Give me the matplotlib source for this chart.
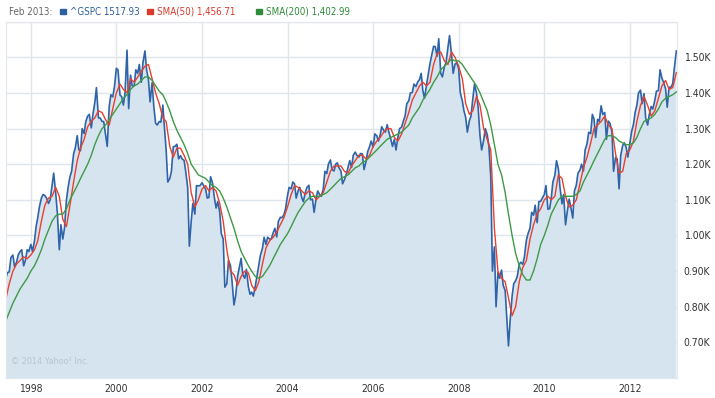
import matplotlib
matplotlib.use('Agg')
import matplotlib.pyplot as plt
import matplotlib.dates as mdates
from matplotlib.patches import Rectangle
from matplotlib.ticker import FuncFormatter, MultipleLocator
import pandas as pd

# ^GSPC, value on the 1st and 15th of each month (Jun 1997 - Feb 2013)
gspc = [
    880, 895, 898, 938, 945, 912, 925, 945, 955, 960, 915, 930, 960, 955,  # 1997
    975, 955, 985, 1025, 1050, 1080, 1105, 1115, 1112, 1105, 1090, 1100,
    1140, 1175, 1120, 1065, 960, 1030, 990, 1020, 1100, 1135, 1165, 1180,  # 1998
    1229, 1245, 1280, 1240, 1238, 1300, 1286, 1320, 1335, 1340, 1302, 1340,
    1373, 1415, 1330, 1330, 1320, 1320, 1282, 1250, 1362, 1395, 1389, 1415,  # 1999
    1469, 1465, 1394, 1390, 1366, 1400, 1520, 1356, 1450, 1420, 1420, 1465,
    1455, 1480, 1430, 1485, 1518, 1465, 1437, 1375, 1429, 1365, 1315, 1310,  # 2000
    1320, 1318, 1366, 1300, 1240, 1150, 1160, 1180, 1249, 1250, 1256, 1215,
    1224, 1215, 1211, 1180, 1134, 970, 1040, 1090, 1060, 1140, 1139, 1140,  # 2001
    1148, 1140, 1130, 1105, 1107, 1165, 1147, 1110, 1077, 1095, 1067, 1005,
    990, 855, 865, 930, 916, 870, 805, 830, 886, 910, 936, 890,  # 2002
    880, 905, 856, 835, 841, 830, 858, 885, 917, 945, 964, 995,
    975, 995, 990, 990, 1008, 1020, 996, 1040, 1051, 1050, 1058, 1075,  # 2003
    1112, 1135, 1131, 1150, 1145, 1105, 1126, 1135, 1107, 1095, 1121, 1135,
    1141, 1100, 1102, 1065, 1104, 1125, 1115, 1110, 1130, 1180, 1174, 1200,  # 2004
    1212, 1185, 1181, 1200, 1204, 1190, 1181, 1145, 1157, 1170, 1192, 1210,
    1191, 1225, 1234, 1225, 1220, 1230, 1229, 1185, 1207, 1235, 1249, 1265,  # 2005
    1248, 1285, 1280, 1265, 1281, 1305, 1295, 1290, 1311, 1290, 1270, 1250,
    1270, 1240, 1277, 1300, 1304, 1320, 1336, 1370, 1378, 1400, 1401, 1425,  # 2006
    1418, 1430, 1438, 1455, 1407, 1385, 1421, 1450, 1482, 1505, 1531, 1530,
    1503, 1552, 1455, 1445, 1474, 1485, 1527, 1561, 1509, 1455, 1481, 1485,  # 2007
    1468, 1400, 1378, 1350, 1331, 1290, 1322, 1335, 1385, 1425, 1400, 1360,
    1280, 1240, 1267, 1300, 1283, 1250, 1165, 900, 968, 800, 896, 880,  # 2008
    903, 860, 845, 770, 690, 760, 830, 865, 873, 885, 919, 925,
    919, 940, 987, 1005, 1021, 1065, 1057, 1085, 1036, 1095, 1096, 1105,  # 2009
    1115, 1140, 1074, 1075, 1104, 1150, 1169, 1210, 1187, 1135, 1089, 1115,
    1030, 1065, 1102, 1080, 1049, 1125, 1141, 1175, 1183, 1200, 1181, 1240,  # 2010
    1258, 1290, 1286, 1340, 1327, 1275, 1326, 1320, 1364, 1340, 1345, 1270,
    1321, 1315, 1292, 1180, 1219, 1215, 1131, 1225, 1253, 1260, 1247, 1220,  # 2011
    1258, 1290, 1312, 1345, 1366, 1400, 1408, 1370, 1398, 1330, 1310, 1340,
    1362, 1355, 1379, 1405, 1407, 1465, 1441, 1430, 1412, 1360, 1416, 1415,  # 2012
    1426, 1470, 1517.93,  # 2013
]

# SMA(50), value on the 1st of each month
sma50 = [
    820, 865, 900, 920, 930, 940, 935,
    945, 960, 985, 1040, 1085, 1105, 1110, 1135, 1110, 1045, 1025, 1085,
    1150, 1210, 1245, 1270, 1305, 1320, 1330, 1350, 1345, 1325, 1310, 1355,
    1400, 1425, 1410, 1400, 1440, 1430, 1445, 1460, 1475, 1480, 1440, 1400,
    1370, 1330, 1320, 1250, 1220, 1245, 1245, 1225, 1200, 1120, 1080, 1100,
    1130, 1140, 1125, 1135, 1125, 1090, 1040, 960, 900, 890, 860, 885,
    900, 895, 860, 845, 870, 920, 965, 985, 995, 1010, 1030, 1050,
    1080, 1115, 1140, 1135, 1125, 1115, 1125, 1120, 1100, 1110, 1120, 1150,
    1180, 1195, 1195, 1195, 1180, 1175, 1195, 1210, 1225, 1225, 1215, 1225,
    1250, 1265, 1275, 1290, 1300, 1300, 1275, 1265, 1285, 1315, 1345, 1380,
    1400, 1420, 1430, 1420, 1430, 1480, 1510, 1515, 1490, 1480, 1515, 1500,
    1475, 1440, 1370, 1340, 1350, 1390, 1365, 1300, 1270, 1240, 1020, 900,
    880, 870, 825, 775, 800, 870, 910, 930, 990, 1030, 1060, 1075,
    1100, 1110, 1100, 1110, 1170, 1160, 1110, 1080, 1085, 1100, 1145, 1190,
    1220, 1260, 1300, 1310, 1320, 1335, 1310, 1300, 1230, 1175, 1180, 1230,
    1240, 1265, 1320, 1365, 1390, 1365, 1335, 1350, 1385, 1420, 1435, 1410,
    1415, 1456.71,
]

# SMA(200), value on the 1st of each month
sma200 = [
    760, 785, 810, 830, 850, 865, 880,
    900, 915, 935, 960, 990, 1015, 1040, 1055, 1060, 1060, 1075, 1100,
    1120, 1140, 1160, 1180, 1200, 1225, 1255, 1280, 1300, 1310, 1325, 1340,
    1355, 1370, 1385, 1395, 1410, 1420, 1425, 1435, 1445, 1445, 1435, 1420,
    1405, 1395, 1375, 1350, 1320, 1295, 1275, 1255, 1230, 1200, 1185, 1170,
    1165, 1160, 1150, 1140, 1135, 1125, 1105, 1080, 1050, 1020, 985, 955,
    935, 915, 900, 885, 880, 885, 900, 915, 935, 955, 975, 990,
    1005, 1025, 1045, 1065, 1080, 1095, 1105, 1110, 1110, 1110, 1115, 1120,
    1130, 1140, 1150, 1160, 1165, 1170, 1180, 1190, 1195, 1205, 1210, 1220,
    1230, 1240, 1250, 1260, 1270, 1275, 1280, 1285, 1290, 1300, 1310, 1330,
    1345, 1360, 1380, 1395, 1410, 1430, 1445, 1465, 1475, 1485, 1495, 1490,
    1490, 1480, 1465, 1450, 1435, 1420, 1400, 1375, 1350, 1310, 1255, 1200,
    1170, 1120, 1060, 1000, 950, 915, 890, 875, 875, 900, 935, 975,
    1000, 1030, 1060, 1080, 1100, 1110, 1110, 1110, 1110, 1115, 1125, 1150,
    1170, 1190, 1210, 1230, 1250, 1270, 1280, 1280, 1275, 1265, 1260, 1255,
    1255, 1260, 1275, 1300, 1320, 1325, 1330, 1340, 1355, 1375, 1385, 1390,
    1395, 1402.99,
]

legend_labels = ['^GSPC 1517.93', 'SMA(50) 1,456.71', 'SMA(200) 1,402.99']

semi_dates = pd.date_range('1997-06-01', '2013-02-01', freq='SMS')
month_dates = pd.date_range('1997-06-01', '2013-02-01', freq='MS')
year_ticks = pd.to_datetime(['1998', '2000', '2002', '2004', '2006',
                             '2008', '2010', '2012'])

plt.rcParams['font.family'] = ['DejaVu Sans']
plt.rcParams['font.stretch'] = 'condensed'

fig = plt.figure(figsize=(7.15, 3.98), dpi=100)
ax = fig.add_axes([6 / 715, 1 - 378 / 398, 670.7 / 715, 356.3 / 398])

ax.fill_between(semi_dates, gspc, 0, color='#d6e4f0', lw=0)
ax.plot(semi_dates, gspc, color='#2f64a8', lw=1.2)
ax.plot(month_dates, sma50, color='#e8402e', lw=1.0)
ax.plot(month_dates, sma200, color='#3d9a45', lw=1.0)

ax.set_xlim(pd.Timestamp('1997-06-03'), pd.Timestamp('2013-02-04'))
ax.set_ylim(600, 1600)
ax.set_xticks(year_ticks)
ax.xaxis.set_major_formatter(mdates.DateFormatter('%Y'))
ax.yaxis.set_major_locator(MultipleLocator(100))
ax.yaxis.set_major_formatter(
    FuncFormatter(lambda v, p: f'{v / 1000:.2f}K' if 700 <= v <= 1500 else ''))
ax.yaxis.tick_right()
ax.tick_params(length=0, labelsize=7.5, colors='#333333')
ax.tick_params(axis='y', pad=5)
ax.tick_params(axis='x', pad=4)
ax.grid(True, color='#dfe5ec', lw=1.0)
ax.set_axisbelow(True)
for s in ax.spines.values():
    s.set_color('#e3e7ec')

ax.text(0.007, 0.04, '\u00a9 2014 Yahoo! Inc.', transform=ax.transAxes,
        fontsize=6.5, color='#b8c4d0')

# legend line at the top, laid out left to right
renderer = fig.canvas.get_renderer()
ytop = 1 - 12 / 398
t = fig.text(9 / 715, ytop, 'Feb 2013:', fontsize=7, color='#666666',
             va='center')
x = t.get_window_extent(renderer).x1
cols = ['#2f5f9c', '#d93a2b', '#2f8a3a']
gaps = [8, 7, 20]
for label, col, gap in zip(legend_labels, cols, gaps):
    x += gap
    fig.patches.append(Rectangle((x / 715, 1 - 13.5 / 398), 6 / 715, 4 / 398,
                                 transform=fig.transFigure, color=col))
    t = fig.text((x + 10) / 715, ytop, label, fontsize=7, color=col,
                 va='center')
    x = t.get_window_extent(renderer).x1

fig.savefig('out.png', dpi=100)
plt.close(fig)
